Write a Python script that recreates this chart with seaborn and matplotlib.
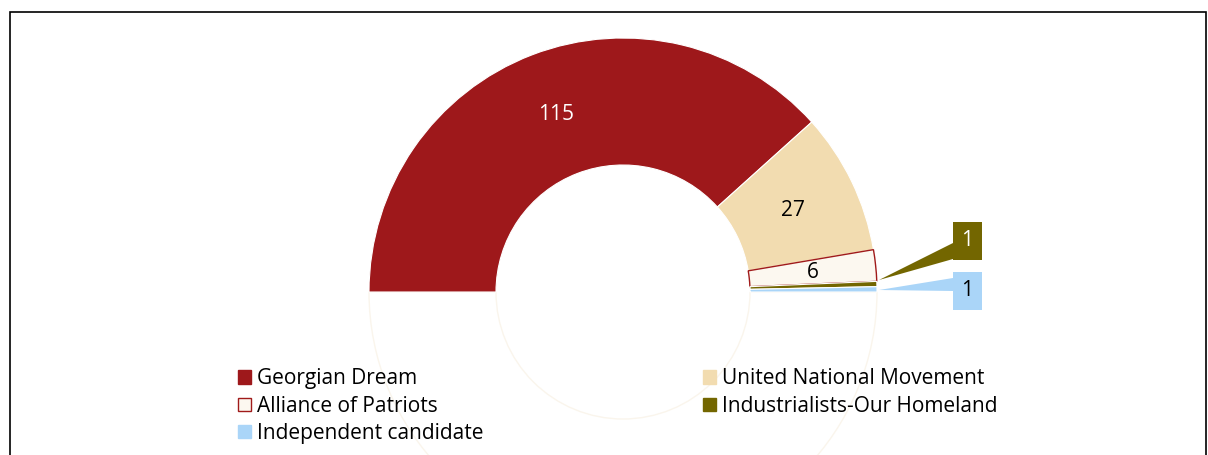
import matplotlib
matplotlib.use("Agg")
import matplotlib.pyplot as plt
from matplotlib.patches import Patch, Rectangle, Polygon
import seaborn as sns

sns.set_theme(style="white")
plt.rcParams['font.family'] = ['Liberation Sans Narrow', 'Open Sans', 'DejaVu Sans']

# seats by party (half donut: the other half is a hidden filler)
parties = ["Georgian Dream", "United National Movement", "Alliance of Patriots",
           "Industrialists-Our Homeland", "Independent candidate"]
seats = [115, 27, 6, 1, 1]
colors = ["#9E181B", "#F2DCB0", "#FCF8F0", "#736600", "#AAD5F8"]

fig = plt.figure(figsize=(12.08, 4.55), dpi=100)
ax = fig.add_axes([0, 0, 1, 1])

# pixel based coordinates, y measured from the bottom
cx, cy, R = 623, 163, 254
values = seats + [sum(seats)]
wedges, _ = ax.pie(values, colors=colors + ["white"], startangle=180, counterclock=False,
                   radius=R, center=(cx, cy), frame=True,
                   wedgeprops=dict(width=R / 2, edgecolor="white", linewidth=0.8))
wedges[2].set_edgecolor("#A01A1A")
wedges[2].set_linewidth(1)
wedges[-1].set_edgecolor("#FAF5EC")
wedges[-1].set_linewidth(1)
wedges[-1].set_zorder(0)

ax.set_xlim(0, 1208)
ax.set_ylim(0, 455)
ax.set_aspect("equal")
ax.axis("off")

# data labels inside the arcs
ax.text(556, 455 - 115, str(seats[0]), color="white", fontsize=15, ha="center", va="center")
ax.text(793, 455 - 211, str(seats[1]), color="black", fontsize=15, ha="center", va="center")
ax.text(813, 455 - 273, str(seats[2]), color="black", fontsize=15, ha="center", va="center")

# callouts for the two single seats
ax.add_patch(Polygon([(879, 455 - 280), (953, 455 - 243), (953, 455 - 259)],
                     closed=True, color=colors[3], lw=0))
ax.add_patch(Rectangle((953, 455 - 260), 29, 38, color=colors[3], lw=0))
ax.text(967.5, 455 - 241, str(seats[3]), color="white", fontsize=15, ha="center", va="center")

ax.add_patch(Polygon([(879, 455 - 290), (953, 455 - 278), (953, 455 - 291)],
                     closed=True, color=colors[4], lw=0))
ax.add_patch(Rectangle((953, 455 - 310), 29, 38, color=colors[4], lw=0))
ax.text(967.5, 455 - 291, str(seats[4]), color="black", fontsize=15, ha="center", va="center")

# legend
handles = [Patch(facecolor=c, edgecolor=("#A01A1A" if i == 2 else c), linewidth=1)
           for i, c in enumerate(colors)]
order = [0, 2, 4, 1, 3]
ax.legend([handles[i] for i in order], [parties[i] for i in order],
          ncol=2, loc="upper left", bbox_to_anchor=(228 / 1208, 1 - 358 / 455),
          frameon=False, fontsize=15, labelcolor="black",
          handlelength=0.6, handleheight=0.6,
          handletextpad=0.3, labelspacing=0.3, columnspacing=10.55, borderpad=0)

# frame around the chart
fig.add_artist(Rectangle((10 / 1208, -0.05), 1196 / 1208, 1.05 - 12 / 455,
                         transform=fig.transFigure, fill=False, edgecolor="black", lw=1.2))

fig.savefig("out.png", dpi=100)
